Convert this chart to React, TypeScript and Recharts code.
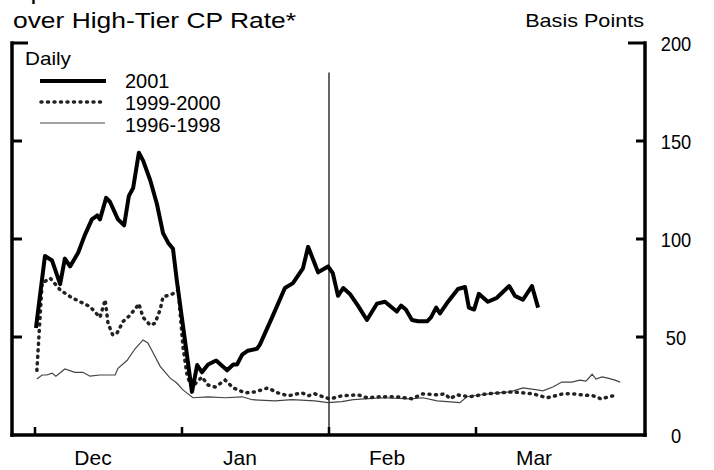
import React from 'react';
import { LineChart, Line, XAxis, YAxis, ReferenceLine, Legend } from 'recharts';

// x = days counted from Dec 1 (31-day months on the axis), y = basis points
const RATE_2001: [number, number][] = [
  [0.2, 54.6], [2.1, 91.3], [3.6, 89], [5.3, 77], [6.3, 90], [7.4, 86], [9.1, 93], [10.5, 102],
  [12.0, 110], [13.1, 112], [13.7, 110], [15.0, 121], [15.8, 119], [17.5, 110], [18.8, 107],
  [19.8, 122], [20.7, 126], [21.9, 144], [22.8, 140], [24.3, 130], [25.7, 118], [27.0, 103],
  [28.1, 98], [29.1, 95], [29.9, 79], [33.1, 22], [34.2, 35.7], [35.2, 32], [36.5, 36],
  [38.2, 38], [40.5, 33], [41.8, 36], [42.6, 36], [43.7, 41], [44.9, 43], [46.8, 44],
  [47.4, 46], [50.0, 60], [52.7, 75], [54.4, 77.5], [56.5, 85], [57.6, 96], [59.7, 83],
  [61.8, 86], [62.8, 82.6], [63.9, 71], [65.0, 75], [66.4, 72], [68.1, 66], [70.0, 58.7],
  [72.1, 67], [73.8, 68], [76.3, 63], [77.2, 66], [78.2, 64], [79.5, 58.7], [80.8, 58],
  [82.7, 58], [83.5, 60], [84.6, 65], [85.4, 62], [87.1, 68], [89.2, 74.5], [90.7, 75.5],
  [91.5, 65], [92.6, 64], [93.6, 72], [95.5, 68], [97.4, 70], [100.0, 76], [101.2, 71],
  [102.9, 69], [104.8, 76], [106.1, 65],
];

const RATE_1999_2000: [number, number][] = [
  [0.4, 33], [1.5, 77.5], [3.2, 80], [5.3, 74], [7.8, 70], [9.5, 68], [11.6, 65.5], [13.7, 60],
  [14.8, 69], [15.4, 57], [16.4, 51], [17.3, 52], [18.6, 58], [20.0, 61], [21.5, 65.5],
  [21.9, 67], [22.8, 60], [24.3, 56], [25.3, 57], [26.4, 64], [27.0, 70.5], [28.5, 71.5],
  [29.5, 72.5], [30.2, 74], [31.2, 45], [32.1, 30], [33.1, 24.5], [35.2, 29.6], [36.5, 25.5],
  [38.0, 24.5], [40.1, 28], [41.8, 24], [44.3, 21.5], [46.4, 22], [49.1, 24], [51.2, 21.5],
  [53.4, 20], [56.3, 21.5], [57.6, 20], [59.0, 21], [60.7, 19.5], [62.2, 18.4], [64.7, 20],
  [68.1, 20.5], [70.0, 19], [72.8, 19.5], [76.3, 19.5], [79.5, 18.5], [81.8, 21], [84.8, 20.5],
  [86.5, 21], [87.5, 18.5], [89.0, 20.5], [91.7, 19.5], [95.3, 21], [98.1, 21.5], [100.8, 22],
  [102.9, 21.5], [105.0, 21], [108.0, 19], [109.7, 20], [111.3, 21], [113.5, 21], [115.6, 20.4],
  [117.7, 20], [119.4, 18.4], [120.8, 19.4], [122.7, 20.4],
];

const RATE_1996_1998: [number, number][] = [
  [0.4, 28.6], [1.5, 30.6], [2.5, 30.6], [3.6, 31.6], [4.4, 30], [6.3, 33.7], [8.4, 32],
  [10.1, 32], [11.6, 30], [13.7, 30.6], [16.9, 30.6], [17.5, 34], [19.4, 38], [21.1, 44],
  [22.8, 48.5], [23.8, 47], [24.9, 42], [26.4, 35], [28.5, 29], [29.9, 26.5], [31.2, 23],
  [33.3, 19], [36.5, 19.5], [40.1, 19], [43.7, 19.5], [45.8, 18], [50.6, 17.4], [54.2, 18],
  [59.0, 17.4], [61.8, 16.5], [64.7, 17], [67.1, 18], [73.4, 19], [79.1, 18.4], [81.8, 19],
  [84.8, 17.4], [86.9, 17], [89.6, 16.5], [91.1, 19.5], [93.8, 20.4], [97.4, 21.5], [100.2, 22],
  [102.9, 24], [105.9, 23], [107.1, 22.5], [109.2, 24.5], [111.1, 27], [113.2, 27], [114.9, 28],
  [116.2, 27.5], [117.5, 31], [118.3, 28.5], [119.6, 29.6], [120.8, 29], [122.3, 28], [123.4, 27],
];

const MONTH_TICKS = [0, 31, 62, 93];
const MONTH_LABELS = ['Dec', 'Jan', 'Feb', 'Mar'];
const Y_TICKS = [0, 50, 100, 150, 200];
const MARKER_DAY = 62;

const FONT = '"Liberation Sans", Arial, Helvetica, sans-serif';

const toPts = (arr: [number, number][]) => arr.map(([d, v]) => ({ d, v }));

const MonthTick = (props: any) => {
  const { x, y, payload } = props;
  const i = MONTH_TICKS.indexOf(payload.value);
  return (
    <g>
      <line x1={x} x2={x} y1={y} y2={y - 8} stroke="#000" strokeWidth={2.5} />
      <text x={x + 58} y={y + 30} textAnchor="middle" fontSize={21} fontFamily={FONT} fill="#000">
        {MONTH_LABELS[i]}
      </text>
    </g>
  );
};

const LeftTick = (props: any) => {
  const { x, y, payload } = props;
  const v = payload.value;
  if (v === 0) return <g />;
  const len = v === 200 ? 16 : 10;
  return <line x1={x} x2={x + len} y1={y} y2={y} stroke="#000" strokeWidth={3} />;
};

const RightTick = (props: any) => {
  const { x, y, payload } = props;
  const v = payload.value;
  const len = v === 200 ? 17 : 9;
  return (
    <g>
      {v > 0 && <line x1={x - len} x2={x} y1={y} y2={y} stroke="#000" strokeWidth={3} />}
      <g transform={`translate(${x + 31},${y}) scale(0.87,1)`}>
        <text dy="0.36em" textAnchor="middle" fontSize={21} fontFamily={FONT} fill="#000">
          {v}
        </text>
      </g>
    </g>
  );
};

const renderLegend = () => (
  <svg width={240} height={95} style={{ display: 'block' }}>
    <g transform="translate(5,20) scale(1.15,1)">
      <text fontSize={18} fontFamily={FONT} fill="#000">Daily</text>
    </g>
    <line x1={20} x2={86} y1={36} y2={36} stroke="#000" strokeWidth={4} />
    <line x1={21} x2={81} y1={57} y2={57} stroke="#222" strokeWidth={3.5} strokeDasharray="1 5.5" strokeLinecap="round" />
    <line x1={20} x2={85} y1={78} y2={78} stroke="#444" strokeWidth={1.2} />
    <text x={105} y={43} fontSize={20} fontFamily={FONT} fill="#000">2001</text>
    <text x={105} y={65} fontSize={20} fontFamily={FONT} fill="#000">1999-2000</text>
    <text x={105} y={87} fontSize={20} fontFamily={FONT} fill="#000">1996-1998</text>
  </svg>
);

const AXIS_LINE = { stroke: '#000', strokeWidth: 3.5, strokeLinecap: 'square' as const };

export default function App() {
  return (
    <div style={{ position: 'absolute', left: 0, top: 0, width: 714, height: 470, background: '#fff', overflow: 'hidden' }}>
      <LineChart width={714} height={470} margin={{ top: 43, right: 0, bottom: 0, left: 2 }}>
        <XAxis
          type="number"
          dataKey="d"
          domain={[-4.85, 128.64]}
          ticks={MONTH_TICKS}
          allowDataOverflow
          height={35}
          tickSize={0}
          tickMargin={0}
          tickLine={false}
          tick={MonthTick}
          axisLine={AXIS_LINE}
        />
        <YAxis
          yAxisId="left"
          orientation="left"
          width={10}
          domain={[0, 200]}
          ticks={Y_TICKS}
          tickSize={0}
          tickMargin={0}
          tickLine={false}
          tick={LeftTick}
          axisLine={AXIS_LINE}
        />
        <YAxis
          yAxisId="right"
          orientation="right"
          width={69}
          domain={[0, 200]}
          ticks={Y_TICKS}
          tickSize={0}
          tickMargin={0}
          tickLine={false}
          tick={RightTick}
          axisLine={AXIS_LINE}
        />
        <ReferenceLine
          yAxisId="right"
          segment={[{ x: MARKER_DAY, y: 0 }, { x: MARKER_DAY, y: 185 }]}
          stroke="#000"
          strokeWidth={1.2}
        />
        <Line
          yAxisId="left"
          data={toPts(RATE_1996_1998)}
          dataKey="v"
          type="linear"
          stroke="#444"
          strokeWidth={1.2}
          dot={false}
          isAnimationActive={false}
        />
        <Line
          yAxisId="right"
          data={toPts(RATE_1999_2000)}
          dataKey="v"
          type="linear"
          stroke="#222"
          strokeWidth={3.5}
          strokeDasharray="1 5.5"
          strokeLinecap="round"
          dot={false}
          isAnimationActive={false}
        />
        <Line
          yAxisId="right"
          data={toPts(RATE_2001)}
          dataKey="v"
          type="linear"
          stroke="#000"
          strokeWidth={4}
          strokeLinejoin="round"
          dot={false}
          isAnimationActive={false}
        />
        <Legend
          layout="horizontal"
          verticalAlign="middle"
          align="center"
          content={renderLegend}
          wrapperStyle={{ top: 45, left: 20, width: 240, height: 95 }}
        />
      </LineChart>
      <svg width={714} height={470} style={{ position: 'absolute', left: 0, top: 0, pointerEvents: 'none' }}>
        <g transform="translate(13,-1) scale(1.2,1)">
          <text fontSize={22} fontFamily={FONT} fill="#000">Spread of A2/P2 CP Rate</text>
        </g>
        <g transform="translate(13,28) scale(1.2,1)">
          <text fontSize={22} fontFamily={FONT} fill="#000">over High-Tier CP Rate*</text>
        </g>
        <g transform="translate(644,27) scale(1.2,1)">
          <text fontSize={18} fontFamily={FONT} fill="#000" textAnchor="end">Basis Points</text>
        </g>
      </svg>
    </div>
  );
}
